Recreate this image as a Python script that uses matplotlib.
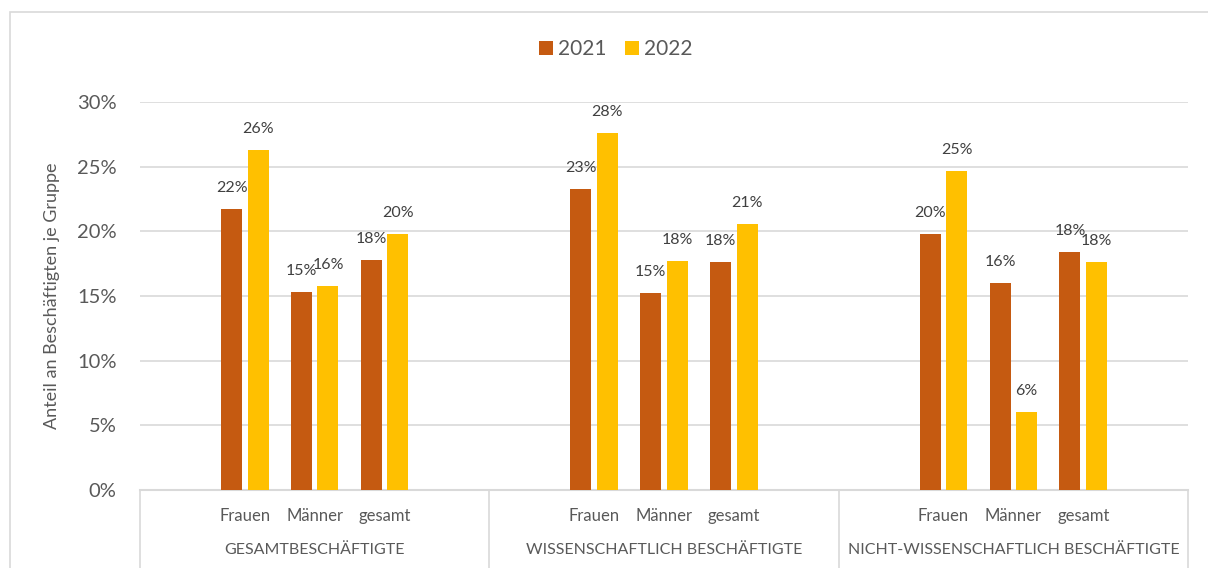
import matplotlib
matplotlib.use("Agg")
import matplotlib.pyplot as plt
import matplotlib.patches as mpatches
import matplotlib.transforms as mtransforms
from matplotlib.ticker import PercentFormatter

plt.rcParams['font.family'] = ['Lato', 'DejaVu Sans']

groups = ["GESAMTBESCHÄFTIGTE", "WISSENSCHAFTLICH BESCHÄFTIGTE",
          "NICHT-WISSENSCHAFTLICH BESCHÄFTIGTE"]
subcategories = ["Frauen", "Männer", "gesamt"]
years = ["2021", "2022"]
share_2021 = [0.217, 0.153, 0.178,
              0.233, 0.152, 0.176,
              0.198, 0.160, 0.184]
share_2022 = [0.263, 0.158, 0.198,
              0.276, 0.177, 0.206,
              0.247, 0.060, 0.176]
y_ticks = [0.0, 0.05, 0.10, 0.15, 0.20, 0.25, 0.30]

colors = ["#C55A11", "#FFC000"]
text_gray = "#595959"
label_gray = "#404040"
grid_gray = "#D9D9D9"

W, H = 1208, 568
fig = plt.figure(figsize=(W / 100, H / 100), dpi=100)
ax = fig.add_axes([140 / W, 1 - 490 / H, (1188 - 140) / W, (490 - 102) / H])

# chart frame
fig.patches.append(mpatches.Rectangle((10 / W, -0.2), 1.5, 0.2 + (H - 12) / H,
                                      transform=fig.transFigure, fill=False,
                                      edgecolor=grid_gray, lw=1.2, zorder=0))

slots_per_group = 5
bar_w = 0.30
offset = 0.19
positions = []
for g in range(len(groups)):
    for s in range(len(subcategories)):
        positions.append(g * slots_per_group + 1 + s + 0.5)

for series, (vals, col, name) in enumerate(zip([share_2021, share_2022], colors, years)):
    dx = -offset if series == 0 else offset
    xs = [p + dx for p in positions]
    ax.bar(xs, vals, width=bar_w, color=col, label=name, zorder=3)
    for x, v in zip(xs, vals):
        ax.annotate(f"{v:.0%}", xy=(x, v), xytext=(0, 21), textcoords="offset pixels",
                    ha="center", va="center", fontsize=11.5, color=label_gray)

ax.set_xlim(0, len(groups) * slots_per_group)
ax.set_ylim(0, 0.30)
ax.set_yticks(y_ticks)
ax.yaxis.set_major_formatter(PercentFormatter(1.0, decimals=0))
ax.tick_params(axis="y", length=0, pad=17, labelsize=14.5, labelcolor=text_gray)
ax.set_xticks([])
ax.grid(axis="y", color=grid_gray, lw=1.2, zorder=0)
for side in ["top", "right", "left"]:
    ax.spines[side].set_visible(False)
ax.spines["bottom"].set_color(grid_gray)
ax.spines["bottom"].set_linewidth(1.5)

ax.set_ylabel("Anteil an Beschäftigten je Gruppe", fontsize=13, color=text_gray, labelpad=12)

# multi-level category axis
trans = mtransforms.blended_transform_factory(ax.transData, ax.transAxes)
for g in range(len(groups) + 1):
    x = g * slots_per_group
    ax.plot([x, x], [0, -0.3], transform=trans, color=grid_gray, lw=1.2, clip_on=False)
for g, gname in enumerate(groups):
    for s, sname in enumerate(subcategories):
        ax.text(g * slots_per_group + 1 + s + 0.5, -26 / 388, sname, transform=trans,
                ha="center", va="center", fontsize=12, color=text_gray)
    ax.text(g * slots_per_group + slots_per_group / 2, -60 / 388, gname, transform=trans,
            ha="center", va="center", fontsize=11.5, color=text_gray)

fig.legend(loc="center", bbox_to_anchor=(616 / W, 1 - 49 / H), ncol=2, frameon=False,
           fontsize=15, handlelength=0.65, handleheight=0.65, handletextpad=0.25,
           columnspacing=0.9, labelcolor=text_gray)

fig.savefig("out.png", dpi=100)
